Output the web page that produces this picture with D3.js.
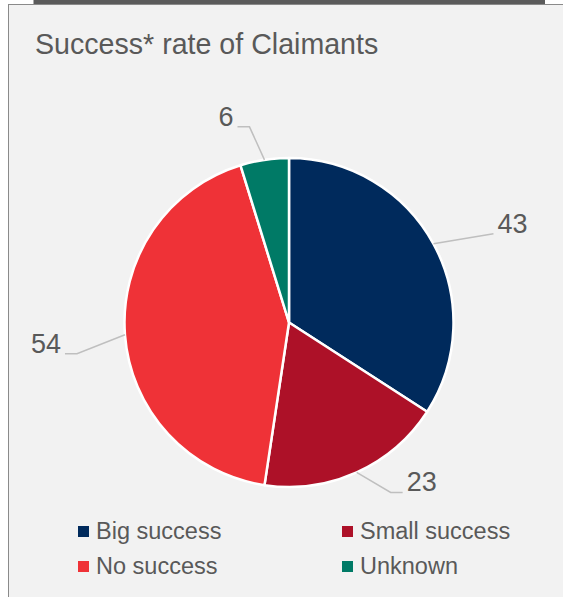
<!DOCTYPE html>
<html>
<head>
<meta charset="utf-8">
<script src="https://cdn.jsdelivr.net/npm/d3@7/dist/d3.min.js"></script>
<style>
  html, body { margin: 0; padding: 0; background: #ffffff; }
  svg { display: block; font-family: "Liberation Sans", Arial, sans-serif; }
</style>
</head>
<body>
<svg id="chart" width="563" height="597"></svg>
<script>
// Chart data
const categories = ["Big success", "Small success", "No success", "Unknown"];
const counts = [43, 23, 54, 6];
const colors = ["#002A5C", "#AD1128", "#EF3237", "#007A66"];
const titleText = "Success* rate of Claimants";

// Layout
const W = 563, H = 597;
const cx = 289, cy = 322.5, radius = 164.5;
const textColor = "#595959";

// Leader-line elbows, relative to where each line leaves the pie edge
const leaderNudge = [[60, -10], [34, 20], [-48, 19], [-15, -33]];
const leaderTail = [0, 12, 12, 12];

const svg = d3.select("#chart");

// Top dark strip and panel frame
svg.append("rect").attr("x", 33.5).attr("y", 0).attr("width", 511.5).attr("height", 4)
  .attr("fill", "#5b5b5b");
svg.append("rect").attr("x", 8.5).attr("y", 4.5).attr("width", W).attr("height", H)
  .attr("fill", "#F2F2F2").attr("stroke", "#8a8a8a").attr("stroke-width", 1);

// Title
svg.append("text").attr("x", 35).attr("y", 54)
  .attr("fill", textColor).attr("font-size", 28.6)
  .text(titleText);

// Pie, starting at 12 o'clock and running clockwise
const pie = d3.pie().sort(null).value(d => d)(counts);
const arc = d3.arc().innerRadius(0).outerRadius(radius);
const g = svg.append("g").attr("transform", `translate(${cx},${cy})`);

g.selectAll("path.slice").data(pie).join("path")
  .attr("class", "slice")
  .attr("d", arc)
  .attr("fill", (d, i) => colors[i])
  .attr("stroke", "#ffffff").attr("stroke-width", 2.5)
  .attr("stroke-linejoin", "round");

// Data labels with leader lines
pie.forEach((d, i) => {
  const mid = (d.startAngle + d.endAngle) / 2;
  const sx = Math.sin(mid) * radius, sy = -Math.cos(mid) * radius;
  const ex = sx + leaderNudge[i][0], ey = sy + leaderNudge[i][1];
  const side = Math.sin(mid) >= 0 ? 1 : -1;
  const tx = ex + side * leaderTail[i];
  g.append("polyline")
    .attr("points", [[sx, sy], [ex, ey], [tx, ey]].map(p => p.join(",")).join(" "))
    .attr("fill", "none").attr("stroke", "#bfbfbf").attr("stroke-width", 1.5);
  g.append("text")
    .attr("x", tx + side * 4).attr("y", ey - 1)
    .attr("text-anchor", side > 0 ? "start" : "end")
    .attr("fill", textColor).attr("font-size", 27)
    .text(d.data);
});

// Legend, two columns
const legendX = [78, 342], legendY = [531, 566];
const legend = svg.append("g");
categories.forEach((c, i) => {
  const lx = legendX[i % 2], ly = legendY[Math.floor(i / 2)];
  legend.append("rect").attr("x", lx).attr("y", ly - 5).attr("width", 11).attr("height", 11)
    .attr("fill", colors[i]);
  legend.append("text").attr("x", lx + 18).attr("y", ly + 8)
    .attr("fill", textColor).attr("font-size", 23.5)
    .text(c);
});
</script>
</body>
</html>
